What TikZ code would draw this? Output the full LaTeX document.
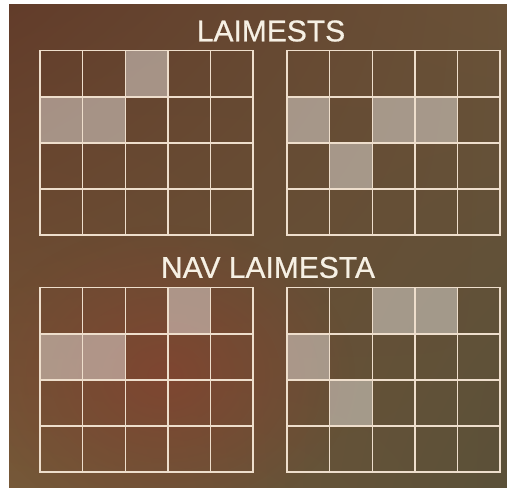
\documentclass[tikz,border=0pt]{standalone}
\usepackage{fontspec}
\setmainfont{Liberation Sans}
\newfontfamily\titlefont{Liberation Sans}[FakeBold=0.7]
\usetikzlibrary{fadings, shadings}
\definecolor{bgRedUL}{RGB}{98,60,42}
\definecolor{bgOliveUR}{RGB}{106,82,56}
\definecolor{bgOliveLL}{RGB}{118,88,56}
\definecolor{bgOliveLR}{RGB}{90,80,56}
\definecolor{bgRust}{RGB}{130,68,48}
\definecolor{gridCream}{RGB}{238,222,204}
\definecolor{titleCream}{RGB}{246,240,228}
\tikzfading[name=glowfade, inner color=transparent!0, outer color=transparent!100]
\tikzset{
  gridline/.style  = {draw=gridCream, line width=1.4pt},
  litcell/.style   = {fill=white, fill opacity=0.42},
  title/.style     = {font=\titlefont\fontsize{30}{30}\selectfont, text=titleCream, inner sep=0pt},
  rustglow/.style  = {fill=bgRust, path fading=glowfade, opacity=0.85},
}

\begin{document}
\begin{tikzpicture}[x=1pt,y=-1pt]
  \useasboundingbox (0,0) rectangle (507,488);
  % background
  \begin{scope}
    \clip (9,4) rectangle (507,488);
    \shade[upper left=bgRedUL, upper right=bgOliveUR,
           lower left=bgOliveLL, lower right=bgOliveLR] (9,4) rectangle (507,488);
    \fill[rustglow] (165,375) ellipse (190 and 150);
  \end{scope}
  % titles
  \node[title] (yes) at (271,31) {LAIMESTS};
  \node[title] (no) at (268,267.5) {NAV LAIMESTA};
  % highlighted cells: grid x/grid y/column/row
  \foreach \gx/\gy/\c/\r in {40/50.7/2/0, 40/50.7/0/1, 40/50.7/1/1,
                             287/50.7/0/1, 287/50.7/2/1, 287/50.7/3/1, 287/50.7/1/2,
                             40/287.7/3/0, 40/287.7/0/1, 40/287.7/1/1,
                             287/287.7/2/0, 287/287.7/3/0, 287/287.7/0/1, 287/287.7/1/2}
    \fill[litcell] ({\gx+\c*42.6},{\gy+\r*46.1}) rectangle ++(42.6,46.1);
  % grids
  \foreach \gx/\gy in {40/50.7, 287/50.7, 40/287.7, 287/287.7} {
    \draw[gridline] (\gx,\gy) rectangle ++(213,184.4);
    \foreach \i in {1,...,4}
      \draw[gridline] ({\gx+\i*42.6},\gy) -- ++(0,184.4);
    \foreach \j in {1,2,3}
      \draw[gridline] (\gx,{\gy+\j*46.1}) -- ++(213,0);
  }
\end{tikzpicture}
\end{document}
